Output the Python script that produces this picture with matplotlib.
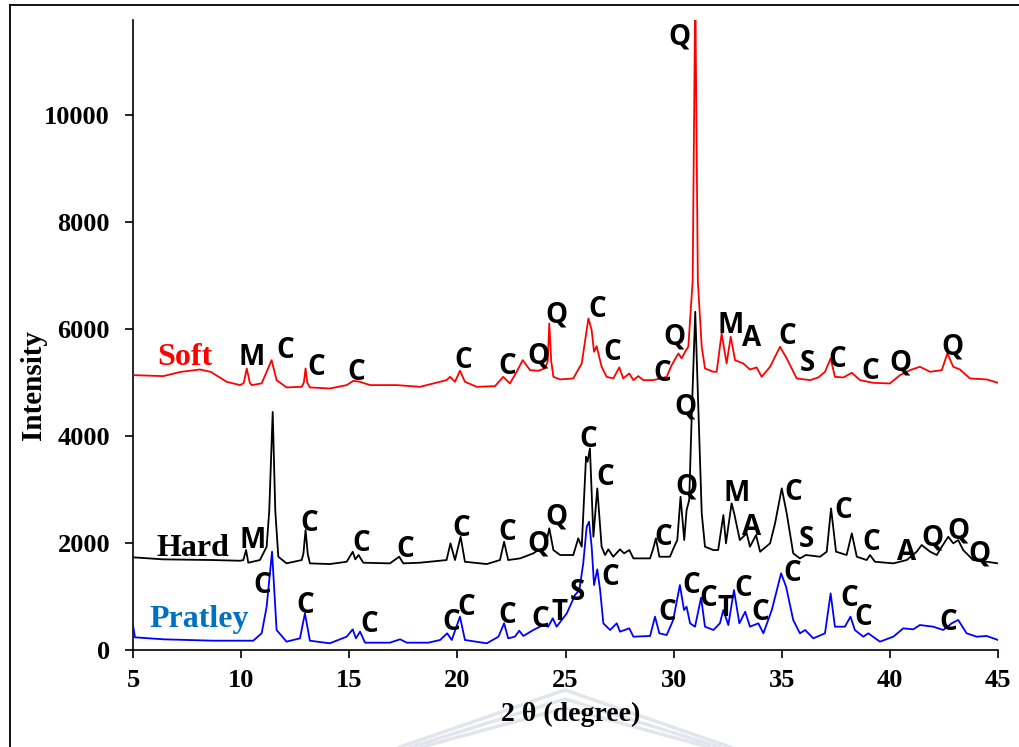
import matplotlib
matplotlib.use("Agg")
import matplotlib.pyplot as plt
from matplotlib.lines import Line2D

# ---------------- data ----------------
soft_2theta = [5.0, 6.4, 7.2, 8.1, 8.6, 9.33, 9.95, 10.12, 10.26, 10.4, 10.49, 10.95, 11.18, 11.41, 11.64,
               12.1, 12.8, 12.9, 12.98, 13.06, 13.18, 14.1, 14.88, 15.19, 15.5, 15.96, 17.2, 18.27,
               19.5, 19.66, 19.89, 20.12, 20.35, 20.89, 21.74, 22.12, 22.43, 22.74, 23.02, 23.36,
               23.74, 24.05, 24.18, 24.25, 24.34, 24.44, 24.75, 25.36, 25.75, 26.06, 26.21, 26.32,
               26.44, 26.67, 26.9, 27.21, 27.49, 27.67, 27.95, 28.14, 28.37, 28.6, 29.06, 29.68,
               29.91, 30.22, 30.37, 30.53, 30.68, 30.88, 30.97, 31.0, 31.03, 31.12, 31.3, 31.45,
               31.84, 31.99, 32.22, 32.45, 32.64, 32.84, 33.22, 33.53, 33.84, 34.07, 34.46, 34.92,
               35.23, 35.69, 36.31, 36.69, 37.0, 37.26, 37.46, 37.85, 38.24, 38.62, 39.23, 40.0,
               40.47, 40.93, 41.39, 41.86, 42.4, 42.66, 42.93, 43.24, 43.7, 44.48, 45.0]
soft_int = [5140, 5121, 5200, 5245, 5200, 5015, 4953, 4990, 5265, 5000, 4953, 4985, 5202, 5420, 5046,
            4910, 4921, 5000, 5265, 5000, 4910, 4890, 4953, 5033, 5015, 4953, 4953, 4921,
            5046, 5108, 5015, 5221, 5015, 4921, 4934, 5108, 4984, 5202, 5420, 5233,
            5221, 5265, 5400, 6106, 5400, 5108, 5059, 5078, 5358, 6200, 5980, 5576,
            5682, 5296, 5108, 5078, 5284, 5078, 5171, 5046, 5121, 5046, 5046, 5108,
            5327, 5545, 5452, 5576, 5670, 6900, 11000, 12500, 11000, 6900, 5670, 5265,
            5202, 5202, 5919, 5358, 5856, 5420, 5358, 5245, 5284, 5108, 5296, 5670,
            5452, 5078, 5046, 5096, 5202, 5452, 5108, 5096, 5183, 5046, 4996, 4984,
            5140, 5233, 5296, 5202, 5233, 5545, 5296, 5245, 5078, 5059, 4996]

hard_2theta = [5.0, 6.4, 8.7, 9.95, 10.1, 10.23, 10.33, 10.87, 11.18, 11.3, 11.46, 11.58, 11.72, 12.1,
               12.8, 12.88, 12.98, 13.08, 13.18, 14.1, 14.88, 15.16, 15.28, 15.43, 15.65, 16.88,
               17.31, 17.5, 18.27, 19.5, 19.68, 19.89, 20.15, 20.35, 21.36, 21.97, 22.16, 22.35,
               22.9, 23.51, 23.74, 24.05, 24.25, 24.44, 24.75, 25.36, 25.59, 25.75, 25.95, 26.02,
               26.13, 26.29, 26.47, 26.67, 26.83, 26.98, 27.21, 27.52, 27.71, 27.95, 28.14, 28.91,
               29.06, 29.18, 29.34, 29.83, 30.06, 30.17, 30.32, 30.49, 30.6, 30.72, 30.84, 31.0,
               31.15, 31.3, 31.45, 31.84, 32.06, 32.3, 32.42, 32.68, 32.8, 33.06, 33.38, 33.53,
               33.81, 34.0, 34.46, 34.69, 35.0, 35.23, 35.53, 35.84, 36.12, 36.77, 37.08, 37.28,
               37.51, 38.0, 38.24, 38.47, 38.93, 39.08, 39.31, 40.16, 40.78, 41.24, 41.47, 41.86,
               42.17, 42.4, 42.7, 42.93, 43.16, 43.39, 43.85, 44.48, 45.0]
hard_int = [1733, 1695, 1682, 1669, 1680, 1869, 1632, 1682, 1931, 2600, 4450, 2600, 1744, 1620,
            1682, 1800, 2243, 1800, 1620, 1607, 1650, 1837, 1695, 1776, 1632, 1620,
            1744, 1620, 1632, 1682, 1994, 1682, 2118, 1650, 1607, 1682, 2024, 1682,
            1713, 1807, 1869, 1901, 2275, 1869, 1776, 1776, 2088, 1931, 3613, 3520,
            3770, 2118, 3022, 1931, 1776, 1882, 1744, 1882, 1807, 1869, 1713, 1713,
            1901, 2088, 1744, 1744, 1963, 2056, 2865, 2056, 2617, 2804, 4430, 6323,
            4430, 2555, 1931, 1869, 1869, 2523, 1994, 2742, 2555, 2056, 2181, 1931,
            2149, 1838, 1994, 2368, 3022, 2555, 1807, 1713, 1776, 1744, 1838, 2648,
            1838, 1776, 2181, 1744, 1682, 1776, 1650, 1620, 1682, 1838, 1963, 1838,
            1776, 1931, 2118, 1994, 2056, 1869, 1682, 1650, 1620]

pratley_2theta = [5.0, 5.09, 6.4, 8.7, 10.56, 10.95, 11.18, 11.43, 11.64, 12.1, 12.72, 12.95, 13.18,
                  14.1, 14.88, 15.16, 15.31, 15.5, 15.73, 16.88, 17.35, 17.66, 18.66, 19.2, 19.53,
                  19.74, 20.12, 20.35, 21.36, 21.9, 22.16, 22.35, 22.66, 22.86, 23.05, 23.51, 23.97,
                  24.2, 24.41, 24.59, 25.06, 25.44, 25.64, 25.82, 25.98, 26.09, 26.21, 26.32, 26.47,
                  26.6, 26.75, 27.06, 27.37, 27.52, 27.95, 28.14, 28.91, 29.14, 29.34, 29.68, 29.98,
                  30.29, 30.48, 30.6, 30.76, 30.99, 31.27, 31.45, 31.84, 32.14, 32.3, 32.53, 32.79,
                  33.04, 33.31, 33.53, 33.92, 34.15, 34.54, 34.97, 35.2, 35.53, 35.84, 36.08, 36.46,
                  37.0, 37.26, 37.46, 37.92, 38.18, 38.38, 38.77, 39.0, 39.54, 40.16, 40.62, 41.08,
                  41.39, 42.0, 42.47, 42.86, 43.16, 43.55, 44.01, 44.48, 45.0]
pratley_int = [467, 237, 200, 174, 174, 312, 809, 1838, 374, 156, 218, 685, 174,
               125, 249, 386, 218, 343, 137, 137, 200, 137, 137, 187, 312,
               187, 623, 187, 125, 249, 499, 218, 249, 361, 262, 374, 467,
               436, 592, 436, 685, 1028, 1121, 1620, 2305, 2398, 1931, 1215, 1508,
               1121, 499, 374, 499, 343, 405, 249, 262, 623, 312, 280, 561,
               1215, 748, 810, 499, 436, 980, 436, 374, 499, 748, 467, 1121,
               499, 716, 436, 499, 312, 748, 1433, 1184, 561, 312, 374, 218,
               312, 1059, 436, 436, 623, 374, 249, 312, 156, 249, 405, 386,
               467, 436, 374, 499, 561, 312, 249, 262, 187]

# peak identification letters: (letter, 2theta, intensity where the letter sits)
soft_peaks = [("M", 10.50, 5476), ("C", 12.03, 5607), ("C", 13.46, 5289), ("C", 15.31, 5196),
              ("C", 20.26, 5420), ("C", 22.29, 5308), ("Q", 23.73, 5495), ("Q", 24.56, 6261),
              ("C", 26.46, 6373), ("C", 27.15, 5570), ("C", 29.46, 5177), ("Q", 30.06, 5850),
              ("Q", 30.29, 11457), ("M", 32.65, 6074), ("A", 33.62, 5831), ("C", 35.24, 5869),
              ("S", 36.17, 5364), ("C", 37.55, 5439), ("C", 39.08, 5214), ("Q", 40.47, 5364),
              ("Q", 42.87, 5663)]
hard_peaks = [("M", 10.55, 2056), ("C", 13.14, 2374), ("C", 15.54, 2000), ("C", 17.58, 1888),
              ("C", 20.17, 2280), ("C", 22.29, 2205), ("Q", 23.73, 1981), ("Q", 24.56, 2486),
              ("C", 26.04, 3944), ("C", 26.83, 3233), ("C", 29.51, 2112), ("Q", 30.53, 4542),
              ("Q", 30.57, 3046), ("M", 32.93, 2934), ("A", 33.62, 2299), ("C", 35.52, 2953),
              ("S", 36.12, 2075), ("C", 37.83, 2617), ("C", 39.13, 2019), ("A", 40.79, 1832),
              ("Q", 41.95, 2093), ("Q", 43.15, 2224), ("Q", 44.12, 1794)]
pratley_peaks = [("C", 10.97, 1215), ("C", 12.95, 841), ("C", 15.91, 486), ("C", 19.70, 505),
                 ("C", 20.40, 800), ("C", 22.29, 654), ("C", 23.82, 561), ("T", 24.70, 692),
                 ("S", 25.53, 1084), ("C", 27.06, 1364), ("C", 29.69, 692), ("C", 30.80, 1215),
                 ("C", 31.59, 972), ("T", 32.38, 785), ("C", 33.21, 1159), ("C", 33.99, 692),
                 ("C", 35.47, 1439), ("C", 38.11, 972), ("C", 38.76, 617), ("C", 42.69, 523)]

series_names = ["Soft", "Hard", "Pratley"]
x_ticks = [5, 10, 15, 20, 25, 30, 35, 40, 45]
y_ticks = [0, 2000, 4000, 6000, 8000, 10000]

# ---------------- figure ----------------
W, H = 1019, 747
fig = plt.figure(figsize=(W / 100, H / 100), dpi=100)
fig.patch.set_facecolor("white")

def fx(px):
    return px / W

def fy(py):
    return 1 - py / H

ax = fig.add_axes([fx(133), fy(650), (998 - 133) / W, (650 - 20) / H])

line_w = 1.3
ax.plot(soft_2theta, soft_int, color="#FF0000", lw=line_w, zorder=3)
ax.plot(hard_2theta, hard_int, color="black", lw=line_w, zorder=3)
ax.plot(pratley_2theta, pratley_int, color="#0000FF", lw=line_w, zorder=3)

ax.set_xlim(5, 45)
ax.set_ylim(0, 11780)
ax.set_xticks(x_ticks)
ax.set_yticks(y_ticks)
ax.set_xticklabels([str(v) for v in x_ticks])
ax.set_yticklabels([str(v) for v in y_ticks])

for s in ["top", "right"]:
    ax.spines[s].set_visible(False)
for s in ["left", "bottom"]:
    ax.spines[s].set_linewidth(1.2)
    ax.spines[s].set_color("black")

serif = "Liberation Serif"
ax.tick_params(axis="both", direction="out", length=6, width=1.2, colors="black")
ax.tick_params(axis="y", pad=10.5)
ax.tick_params(axis="x", pad=8)
for lab in ax.get_xticklabels() + ax.get_yticklabels():
    lab.set_fontfamily(serif)
    lab.set_fontweight("bold")
    lab.set_fontsize(19)

# axis titles
fig.text(fx(33), fy(385), "Intensity", rotation=90, ha="center", va="center",
         fontsize=21, fontfamily=serif, fontweight="bold")
fig.text(fx(571), fy(714), "2 θ (degree)", ha="center", va="center",
         fontsize=20, fontfamily=serif, fontweight="bold")

# series names
name_pos = [(7.40, 5476), (7.77, 1907), (8.08, 579)]
name_col = ["#FF0000", "black", "#0070C0"]
for name, (nx, ny), c in zip(series_names, name_pos, name_col):
    ax.text(nx, ny, name, color=c, ha="center", va="center", fontsize=23,
            fontfamily=serif, fontweight="bold", zorder=5)

# peak letters
for peaks in (soft_peaks, hard_peaks, pratley_peaks):
    for letter, px_, py_ in peaks:
        ax.text(px_, py_, letter, ha="center", va="center", fontsize=20,
                fontfamily="Open Sans", fontweight="bold", color="black", zorder=6)

# page frame (left and top edges)
fig.add_artist(Line2D([fx(10), fx(10)], [fy(5), fy(747)], color="black", lw=1.3))
fig.add_artist(Line2D([fx(10), fx(1019)], [fy(5), fy(5)], color="black", lw=1.3))

# faint watermark roof under the x label
wm = "#e4e5ec"
for off in (0, 9, 18):
    fig.add_artist(Line2D([fx(400 + off * 1.2), fx(565), fx(730 - off * 1.2)],
                          [fy(747), fy(690 + off), fy(747)], color=wm, lw=2.5, zorder=0))

fig.savefig("out.png", dpi=100, facecolor="white")
